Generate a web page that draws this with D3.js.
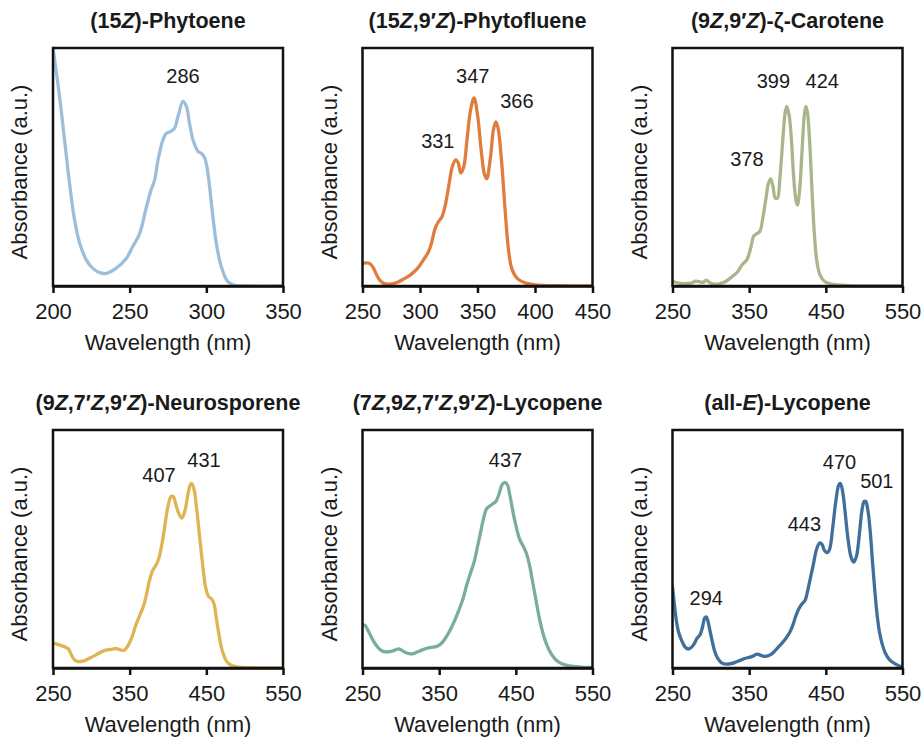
<!DOCTYPE html>
<html>
<head>
<meta charset="utf-8">
<script src="https://cdn.jsdelivr.net/npm/d3@7/dist/d3.min.js"></script>
<style>
  html, body { margin: 0; padding: 0; background: #ffffff; }
  svg { display: block; }
  text { font-family: "Liberation Sans", Arial, Helvetica, sans-serif; fill: #1a1a1a; }
</style>
</head>
<body>
<svg id="chart" width="922" height="740"></svg>
<script>
// ---------- DATA (wavelength nm, relative absorbance) ----------
const phytoene = [[200,1.0],[204,0.81],[207.6,0.61],[211,0.42],[214,0.28],[217.4,0.18],[221.7,0.11],[226,0.074],[230.4,0.056],[234.8,0.053],[241,0.074],[247.8,0.116],[252,0.166],[256.5,0.22],[261,0.334],[264,0.404],[266.3,0.446],[268.5,0.53],[271.7,0.614],[274,0.642],[277,0.65],[279.3,0.663],[281.5,0.712],[284.8,0.776],[287,0.755],[289,0.684],[291.3,0.614],[294.6,0.565],[296.7,0.558],[299,0.537],[301,0.474],[304.3,0.29],[306.5,0.18],[309.8,0.08],[314,0.018],[318,0.004],[330,0],[350,0]];
const phytofluene = [[250,0.095],[253,0.097],[256,0.095],[259,0.08],[262,0.05],[265,0.025],[269,0.01],[274,0.008],[280,0.015],[286,0.03],[292,0.048],[298,0.075],[303,0.11],[307,0.14],[310,0.18],[313,0.24],[316,0.27],[319,0.29],[322,0.34],[325,0.42],[328,0.50],[331,0.53],[333,0.52],[335.5,0.475],[338,0.50],[341,0.62],[344,0.74],[347,0.79],[350,0.72],[353,0.58],[356,0.47],[358,0.45],[361,0.53],[364,0.66],[366,0.69],[368,0.66],[371,0.52],[374,0.32],[377,0.15],[380,0.07],[385,0.03],[392,0.012],[400,0.005],[420,0.001],[450,0]];
const zetaCarotene = [[250,0.02],[258,0.012],[266,0.01],[274,0.012],[280,0.02],[285,0.018],[290,0.015],[294,0.025],[298,0.015],[304,0.008],[312,0.01],[320,0.02],[328,0.04],[335,0.06],[341,0.09],[347,0.11],[352,0.16],[356,0.21],[360,0.22],[364,0.23],[368,0.29],[372,0.37],[375,0.43],[378,0.45],[381,0.42],[384,0.37],[387,0.37],[390,0.45],[394,0.62],[397,0.73],[399,0.755],[402,0.72],[405,0.62],[408,0.46],[411,0.36],[413,0.34],[416,0.41],[419,0.57],[422,0.72],[424,0.755],[426,0.73],[429,0.60],[432,0.40],[435,0.22],[438,0.11],[442,0.05],[448,0.02],[458,0.008],[480,0.002],[550,0]];
const neurosporene = [[250,0.105],[258,0.097],[266,0.088],[270,0.08],[274,0.055],[278,0.035],[283,0.027],[290,0.03],[297,0.04],[305,0.053],[312,0.066],[319,0.075],[326,0.078],[332,0.082],[338,0.076],[343,0.075],[348,0.095],[353,0.13],[358,0.18],[363,0.22],[368,0.26],[372,0.31],[376,0.37],[380,0.41],[384,0.43],[388,0.46],[392,0.52],[396,0.60],[400,0.68],[404,0.72],[407,0.72],[410,0.69],[414,0.65],[418,0.63],[422,0.66],[426,0.73],[429,0.77],[431,0.775],[434,0.75],[437,0.68],[441,0.56],[445,0.44],[449,0.34],[453,0.30],[457,0.29],[460,0.27],[463,0.21],[467,0.13],[471,0.07],[476,0.03],[482,0.012],[490,0.005],[510,0.001],[550,0]];
const prolycopene = [[250,0.18],[253,0.18],[256,0.165],[260,0.14],[264,0.115],[268,0.095],[272,0.08],[277,0.07],[282,0.068],[287,0.07],[292,0.075],[297,0.08],[301,0.075],[306,0.065],[311,0.06],[316,0.06],[322,0.068],[328,0.076],[334,0.083],[340,0.087],[346,0.09],[351,0.098],[356,0.115],[361,0.14],[366,0.17],[371,0.205],[376,0.245],[381,0.29],[386,0.35],[391,0.40],[396,0.45],[400,0.51],[404,0.57],[408,0.63],[412,0.67],[416,0.68],[420,0.69],[424,0.70],[428,0.73],[432,0.77],[436,0.78],[439,0.77],[442,0.73],[446,0.66],[450,0.60],[455,0.54],[460,0.51],[464,0.48],[468,0.43],[472,0.36],[476,0.29],[480,0.22],[485,0.15],[490,0.10],[496,0.06],[502,0.035],[510,0.018],[520,0.009],[535,0.004],[550,0.002]];
const allELycopene = [[250,0.34],[252,0.28],[255,0.2],[258,0.15],[262,0.115],[266,0.09],[270,0.08],[274,0.085],[278,0.10],[282,0.125],[286,0.14],[289,0.17],[292,0.21],[294,0.215],[296,0.2],[299,0.155],[302,0.11],[305,0.07],[309,0.04],[314,0.022],[320,0.016],[326,0.018],[332,0.024],[338,0.032],[344,0.04],[350,0.045],[355,0.05],[360,0.058],[364,0.055],[368,0.05],[373,0.05],[378,0.056],[383,0.07],[388,0.088],[393,0.105],[398,0.125],[403,0.15],[407,0.18],[411,0.22],[415,0.25],[419,0.27],[423,0.285],[426,0.32],[430,0.38],[434,0.44],[438,0.50],[442,0.525],[445,0.52],[448,0.495],[452,0.485],[455,0.50],[459,0.59],[463,0.70],[467,0.77],[469,0.775],[472,0.74],[475,0.66],[479,0.54],[483,0.465],[486.5,0.445],[490,0.47],[494,0.57],[497,0.66],[500,0.70],[502,0.70],[505,0.66],[508,0.57],[511,0.44],[514,0.32],[517,0.22],[520,0.15],[524,0.095],[528,0.06],[533,0.035],[540,0.018],[546,0.008],[550,0.004]];

// titles: text between * is italic
const titles = ["(15*Z*)-Phytoene", "(15*Z*,9′*Z*)-Phytofluene", "(9*Z*,9′*Z*)-ζ-Carotene",
                "(9*Z*,7′*Z*,9′*Z*)-Neurosporene", "(7*Z*,9*Z*,7′*Z*,9′*Z*)-Lycopene", "(all-*E*)-Lycopene"];
const series = [phytoene, phytofluene, zetaCarotene, neurosporene, prolycopene, allELycopene];
const xDomains = [[200,350],[250,450],[250,550],[250,550],[250,550],[250,550]];
const xTicks = [[200,250,300,350],[250,300,350,400,450],[250,350,450,550],[250,350,450,550],[250,350,450,550],[250,350,450,550]];
// peak labels: [text, wavelength at label centre, absorbance at label baseline]
const peakLabels = [
  [["286",284.8,0.853]],
  [["331",315.5,0.58],["347",345.9,0.852],["366",384.2,0.747]],
  [["378",347,0.503],["399",381.6,0.831],["424",445.3,0.831]],
  [["407",388.3,0.782],["431",447,0.845]],
  [["437",436.5,0.845]],
  [["294",294,0.266],["443",422,0.575],["470",467.8,0.835],["501",516.5,0.758]]
];
const colors = ["#9dbedb", "#e07c3e", "#a9b68a", "#dfb452", "#7aad9a", "#3f6f9a"];
const xAxisTitle = "Wavelength (nm)";
const yAxisTitle = "Absorbance (a.u.)";

// ---------- LAYOUT ----------
const svg = d3.select("#chart");
const panelLefts = [53, 362.5, 672.5];
const panelTops = [48, 430];
const pw = 230, ph = 238;

series.forEach((data, i) => {
  const col = i % 3, row = Math.floor(i / 3);
  const left = panelLefts[col], top = panelTops[row];
  const g = svg.append("g").attr("transform", `translate(${left},${top})`);
  const x = d3.scaleLinear().domain(xDomains[i]).range([0, pw]);
  const y = d3.scaleLinear().domain([0, 1]).range([ph, 0]);

  // curve
  const clipId = "clip" + i;
  g.append("clipPath").attr("id", clipId).append("rect")
    .attr("x", 0).attr("y", -2).attr("width", pw).attr("height", ph + 2);
  g.append("path")
    .datum(data)
    .attr("clip-path", `url(#${clipId})`)
    .attr("fill", "none")
    .attr("stroke", colors[i])
    .attr("stroke-width", 3.3)
    .attr("stroke-linejoin", "round")
    .attr("stroke-linecap", "round")
    .attr("d", d3.line().x(d => x(d[0])).y(d => y(d[1])).curve(d3.curveCatmullRom.alpha(0.5)));

  // box
  g.append("rect").attr("x", 0).attr("y", 0).attr("width", pw).attr("height", ph)
    .attr("fill", "none").attr("stroke", "#111").attr("stroke-width", 2.5);

  // x axis
  const ax = g.append("g").attr("transform", `translate(0,${ph})`)
    .call(d3.axisBottom(x).tickValues(xTicks[i]).tickSize(7).tickSizeOuter(0).tickPadding(10).tickFormat(d3.format("d")));
  ax.select(".domain").attr("stroke", "#111").attr("stroke-width", 2.5);
  ax.selectAll(".tick line").attr("stroke", "#111").attr("stroke-width", 2.5);
  ax.selectAll(".tick text")
    .attr("font-family", '"Liberation Sans", Arial, sans-serif')
    .attr("font-size", 22).attr("fill", "#1a1a1a");

  // axis titles
  g.append("text").attr("x", pw / 2).attr("y", ph + 64)
    .attr("text-anchor", "middle").attr("font-size", 22).text(xAxisTitle);
  g.append("text")
    .attr("transform", `translate(-26,${ph / 2 + 5}) rotate(-90)`)
    .attr("text-anchor", "middle").attr("font-size", 22).text(yAxisTitle);

  // panel title
  const t = g.append("text").attr("x", pw / 2).attr("y", -20)
    .attr("text-anchor", "middle").attr("font-size", 21.5).attr("font-weight", "bold");
  titles[i].split("*").forEach((part, k) => {
    if (!part) return;
    t.append("tspan").attr("font-style", k % 2 ? "italic" : "normal").text(part);
  });

  // peak labels
  g.selectAll(".peak").data(peakLabels[i]).enter().append("text")
    .attr("class", "peak")
    .attr("x", d => x(d[1])).attr("y", d => y(d[2]))
    .attr("text-anchor", "middle").attr("font-size", 20).text(d => d[0]);
});
</script>
</body>
</html>
